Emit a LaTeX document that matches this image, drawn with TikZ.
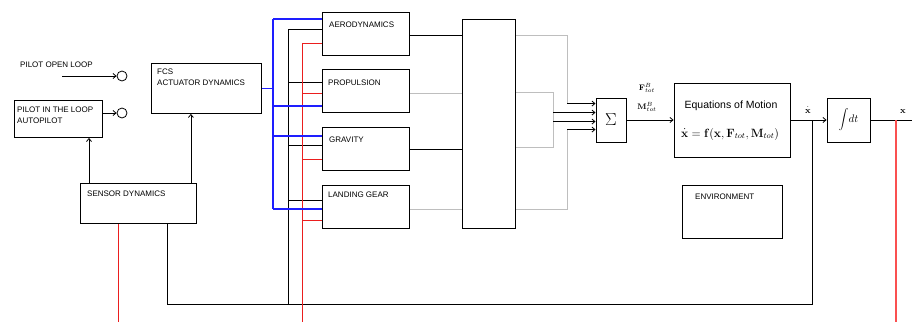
\documentclass[tikz,border=0pt]{standalone}
\usepackage[no-math]{fontspec}
\setmainfont{Liberation Sans}
\usetikzlibrary{arrows.meta,calc}
\definecolor{lgray}{RGB}{190,190,190}
\definecolor{pinkred}{RGB}{250,80,80}
\definecolor{bblue}{RGB}{30,30,255}
\definecolor{rred}{RGB}{235,30,30}
\begin{document}
\begin{tikzpicture}[x=1pt,y=-1pt,
  box/.style={draw=black,line width=0.9pt,anchor=north west,inner sep=0pt},
  modbox/.style={box,line width=1.4pt,minimum width=87pt,minimum height=43pt},
  lab/.style={anchor=west,inner sep=0pt,font=\fontsize{8}{9}\selectfont},
  wire/.style={line width=0.8pt,draw=black},
  bluew/.style={line width=1.3pt,draw=bblue},
  redw/.style={line width=1pt,draw=rred},
  salw/.style={line width=1.1pt,draw=pinkred},
  grayw/.style={line width=0.9pt,draw=lgray},
  arr/.style={-{Straight Barb[length=3pt,width=5pt]}},
  port/.style={circle,draw=black,line width=0.8pt,minimum size=10pt,inner sep=0pt}]
\useasboundingbox (0,0) rectangle (912,322);

% ---- left blocks
\node[box,minimum width=88pt,minimum height=37pt] (pilot) at (14,100) {};
\node[box,minimum width=110pt,minimum height=50pt] (fcs) at (151,63) {};
\node[box,minimum width=116pt,minimum height=40pt] (sensor) at (80,183) {};
\node[port] (c1) at (122,76) {};
\node[port] (c2) at (122,113) {};
\coordinate (olstart) at (62,76);

\node[lab] (tol) at (20,65) {PILOT OPEN LOOP};
\node[lab] (tpil1) at (17,110) {PILOT IN THE LOOP};
\node[lab] (tpil2) at (17,121) {AUTOPILOT};
\node[lab] (tfcs1) at (157,72) {FCS};
\node[lab] (tfcs2) at (157,83) {ACTUATOR DYNAMICS};
\node[lab] (tsen) at (87,194) {SENSOR DYNAMICS};

% ---- modules
\node[modbox] (aero) at (322,12) {};
\node[modbox] (prop) at (322,69) {};
\node[modbox] (grav) at (322,127) {};
\node[modbox] (land) at (322,185) {};
\node[lab] (taero) at (329,25) {AERODYNAMICS};
\node[lab] (tprop) at (328,83) {PROPULSION};
\node[lab] (tgrav) at (329,140) {GRAVITY};
\node[lab] (tland) at (328,195) {LANDING GEAR};

\node[box,minimum width=53pt,minimum height=209pt] (big) at (462,19) {};

% ---- right blocks
\node[box,anchor=center,minimum width=30pt,minimum height=44pt] (sum) at (611,120) {\fontsize{19}{19}\selectfont$\Sigma$};
\node[box,anchor=center,minimum width=116pt,minimum height=74pt] (eom) at (732,120) {};
\node[font=\fontsize{10.5}{12}\selectfont,inner sep=0pt] (teom) at (731,106) {Equations of Motion};
\node[font=\fontsize{11.5}{13}\selectfont,inner sep=0pt] (tform) at (730,134) {$\dot{\mathbf{x}}=\mathbf{f}(\mathbf{x},\mathbf{F}_{tot},\mathbf{M}_{tot})$};
\node[box,anchor=center,minimum width=43pt,minimum height=44pt] (integ) at (848.5,120) {\fontsize{10.5}{12}\selectfont$\displaystyle\int\! dt$};
\node[box,minimum width=100pt,minimum height=53pt] (env) at (682,185) {};
\node[lab] (tenv) at (695,197) {ENVIRONMENT};

\node[inner sep=0pt] (lF) at (647,88) {\fontsize{8.5}{9}\selectfont$\mathbf{F}^{B}_{tot}$};
\node[inner sep=0pt] (lM) at (647,107) {\fontsize{8.5}{9}\selectfont$\mathbf{M}^{B}_{tot}$};
\node[inner sep=0pt] (lxd) at (808,110) {\fontsize{9}{10}\selectfont$\dot{\mathbf{x}}$};
\node[inner sep=0pt] (lx) at (903,111) {\fontsize{9}{10}\selectfont$\mathbf{x}$};

% ---- helper coordinates
\coordinate (bb) at (273,0);
\coordinate (kb) at (288,0);
\coordinate (rb) at (302.5,0);
\coordinate (bus) at (0,304);
\coordinate (bot) at (0,322);
\coordinate (g1) at (567,0);
\coordinate (g2) at (553,0);
\coordinate (xd) at ([xshift=22pt]eom.east);
\coordinate (xr) at ([xshift=25.5pt]integ.east);
\coordinate (out) at (912,120);

\coordinate (aB) at ([yshift=-7pt]aero.north west);
\coordinate (aK) at ([yshift=-17pt]aero.north west);
\coordinate (aR) at ([yshift=-31.5pt]aero.north west);
\coordinate (pB) at ([yshift=-37pt]prop.north west);
\coordinate (pK) at ([yshift=-13pt]prop.north west);
\coordinate (pR) at ([yshift=-24.5pt]prop.north west);
\coordinate (gB) at ([yshift=-9pt]grav.north west);
\coordinate (gK) at ([yshift=-18pt]grav.north west);
\coordinate (gR) at ([yshift=-32.5pt]grav.north west);
\coordinate (lB) at ([yshift=-24pt]land.north west);
\coordinate (lK) at ([yshift=-15pt]land.north west);
\coordinate (lR) at ([yshift=-35.5pt]land.north west);

\coordinate (si1) at ([yshift=-6pt]sum.north west);
\coordinate (si2) at ([yshift=-15pt]sum.north west);
\coordinate (si3) at ([yshift=-24pt]sum.north west);
\coordinate (si4) at ([yshift=-32pt]sum.north west);

% ---- left connectors
\draw[wire,arr] (olstart) -- (c1);
\draw[wire,arr] (pilot.east |- c2) -- (c2);
\draw[wire,arr] ([xshift=9pt]sensor.north west) -- ([xshift=9pt]sensor.north west |- pilot.south);
\draw[wire,arr] ([xshift=-6pt]sensor.north east) -- ([xshift=-6pt]sensor.north east |- fcs.south);
\draw[redw] ([xshift=38.5pt]sensor.south west) -- ([xshift=38.5pt]sensor.south west |- bot);
\draw[wire] ([xshift=87pt]sensor.south west) |- (xd |- bus) -- (xd);

% black bus
\draw[wire] (aK) -| (kb |- bus);
\draw[wire] (pK -| kb) -- (pK);
\draw[wire] (gK -| kb) -- (gK);
\draw[wire] (lK -| kb) -- (lK);
% red bus
\draw[redw] (aR) -| (rb |- bot);
\draw[redw] (pR -| rb) -- (pR);
\draw[redw] (gR -| rb) -- (gR);
\draw[redw] (lR -| rb) -- (lR);
% blue bus
\draw[bluew] (fcs.east) -- (fcs.east -| bb);
\draw[bluew] (aB -| bb) -- (lB -| bb);
\draw[bluew] (aB -| bb) -- (aB);
\draw[bluew] (pB -| bb) -- (pB);
\draw[bluew] (gB -| bb) -- (gB);
\draw[bluew] (lB -| bb) -- (lB);

% modules to big box
\draw[wire] ([yshift=-23pt]aero.north east) -- ([yshift=-23pt]aero.north east -| big.west);
\draw[grayw] ([yshift=-24pt]prop.north east) -- ([yshift=-24pt]prop.north east -| big.west);
\draw[wire] ([yshift=-22pt]grav.north east) -- ([yshift=-22pt]grav.north east -| big.west);
\draw[grayw] ([yshift=-24pt]land.north east) -- ([yshift=-24pt]land.north east -| big.west);

% big box to sum
\draw[grayw] ([yshift=-16pt]big.north east) -| (si1 -| g1);
\draw[grayw] ([yshift=-73pt]big.north east) -| ([yshift=-128pt]big.north east -| g2) -- ([yshift=-128pt]big.north east);
\draw[grayw] ([yshift=-190pt]big.north east) -| (si4 -| g1);
\draw[wire,arr] (si1 -| g1) -- (si1);
\draw[wire,arr] (si2 -| g2) -- (si2);
\draw[wire,arr] (si3 -| g2) -- (si3);
\draw[wire,arr] (si4 -| g1) -- (si4);

% main chain
\draw[wire,arr] (sum.east) -- (eom.west);
\draw[wire,arr] (eom.east) -- (integ.west);
\draw[wire] (integ.east) -- (out);
\draw[salw] (xr) -- (xr |- bot);
\end{tikzpicture}
\end{document}
